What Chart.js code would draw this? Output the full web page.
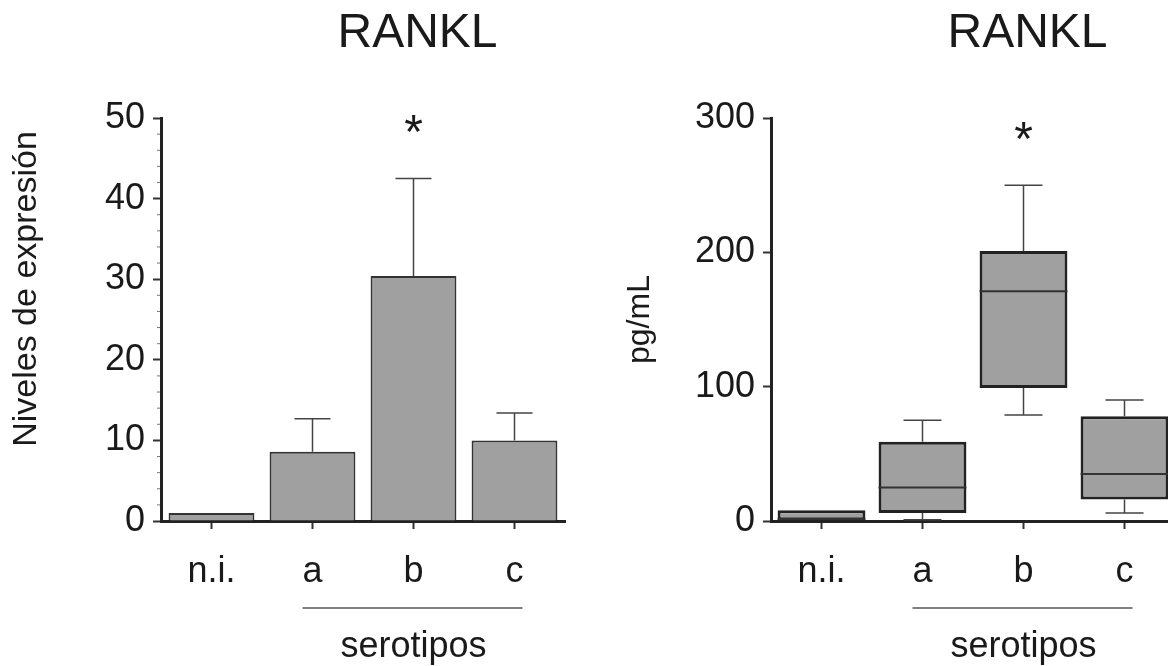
<!DOCTYPE html>
<html lang="es">
<head>
    <meta charset="UTF-8">
    <title>RANKL</title>
    <script src="https://cdn.jsdelivr.net/npm/chart.js"></script>
    <style>
        html, body { margin: 0; padding: 0; background: #fff; overflow: hidden; }
        body { width: 1168px; height: 666px; position: relative; }
        .panel { position: absolute; top: 0; height: 666px; }
        #left { left: 0; width: 584px; }
        #right { left: 584px; width: 600px; }
    </style>
</head>
<body>
    <div class="panel" id="left"><canvas id="expChart"></canvas></div>
    <div class="panel" id="right"><canvas id="pgChart"></canvas></div>

    <script>
        const categories = ['n.i.', 'a', 'b', 'c'];

        // left panel: expression levels, mean + upper error
        const expMeans = [1.0, 8.6, 30.4, 10.0];
        const expErrors = [0, 4.1, 12.1, 3.4];
        const expTicks = [0, 10, 20, 30, 40, 50];
        const expStar = 49.5;

        // right panel: pg/mL box plots
        const boxLow = [0, 1, 79, 6];
        const boxQ1 = [0.5, 6, 99, 16];
        const boxMedian = [1.5, 25, 171, 35];
        const boxQ3 = [8, 59, 201, 78];
        const boxHigh = [8, 75, 250, 90];
        const pgTicks = [0, 100, 200, 300];
        const pgStar = 292;

        const FONT = '"Liberation Sans", Arial, sans-serif';
        const INK = '#1a1a1a';
        Chart.defaults.font.family = FONT;
        Chart.defaults.color = INK;

        // title, asterisk and "serotipos" bracket under a/b/c
        const annotations = (starValue) => ({
            id: 'annotations',
            afterDraw(chart) {
                const { ctx, scales: { x, y } } = chart;
                ctx.save();
                ctx.fillStyle = INK;
                ctx.textAlign = 'center';
                ctx.textBaseline = 'alphabetic';
                ctx.font = '48px ' + FONT;
                ctx.fillText('RANKL', x.getPixelForValue(2) + 4, 47);

                ctx.fillText('*', x.getPixelForValue(2), y.getPixelForValue(starValue) + 26);

                ctx.strokeStyle = '#555';
                ctx.lineWidth = 1.5;
                ctx.beginPath();
                ctx.moveTo(x.getPixelForValue(1) - 10, 608);
                ctx.lineTo(x.getPixelForValue(3) + 8, 608);
                ctx.stroke();

                ctx.font = '36px ' + FONT;
                ctx.fillText('serotipos', x.getPixelForValue(2), 657);
                ctx.restore();
            }
        });

        // left y label sits a bit above the axis centre in the original
        const leftLabel = {
            id: 'leftLabel',
            afterDraw(chart) {
                const { ctx } = chart;
                ctx.save();
                ctx.translate(27, 289);
                ctx.rotate(-Math.PI / 2);
                ctx.fillStyle = INK;
                ctx.textAlign = 'center';
                ctx.textBaseline = 'middle';
                ctx.font = '34px ' + FONT;
                ctx.fillText('Niveles de expresión', 0, 0);
                ctx.restore();
            }
        };

        const errorBars = {
            id: 'errorBars',
            afterDatasetsDraw(chart) {
                const { ctx, scales: { x, y } } = chart;
                ctx.save();
                ctx.strokeStyle = '#444';
                ctx.lineWidth = 1.5;
                expMeans.forEach((m, i) => {
                    if (!expErrors[i]) return;
                    const cx = x.getPixelForValue(i);
                    const top = y.getPixelForValue(m + expErrors[i]);
                    ctx.beginPath();
                    ctx.moveTo(cx, y.getPixelForValue(m));
                    ctx.lineTo(cx, top);
                    ctx.moveTo(cx - 18, top);
                    ctx.lineTo(cx + 18, top);
                    ctx.stroke();
                });
                // small minor ticks on the y axis
                ctx.strokeStyle = '#777';
                ctx.lineWidth = 1;
                for (let v = 2; v < 50; v += 2) {
                    if (v % 10 === 0) continue;
                    const py = y.getPixelForValue(v);
                    ctx.beginPath();
                    ctx.moveTo(x.left - 4, py);
                    ctx.lineTo(x.left - 1, py);
                    ctx.stroke();
                }
                ctx.restore();
            }
        };

        const whiskers = {
            id: 'whiskers',
            afterDatasetsDraw(chart) {
                const { ctx, scales: { x, y } } = chart;
                const bars = chart.getDatasetMeta(0).data;
                ctx.save();
                categories.forEach((c, i) => {
                    const cx = x.getPixelForValue(i);
                    const half = bars[i].width / 2;
                    ctx.strokeStyle = '#444';
                    ctx.lineWidth = 1.5;
                    ctx.beginPath();
                    if (boxHigh[i] > boxQ3[i]) {
                        ctx.moveTo(cx, y.getPixelForValue(boxQ3[i]));
                        ctx.lineTo(cx, y.getPixelForValue(boxHigh[i]));
                        ctx.moveTo(cx - 19, y.getPixelForValue(boxHigh[i]));
                        ctx.lineTo(cx + 19, y.getPixelForValue(boxHigh[i]));
                    }
                    if (boxLow[i] < boxQ1[i] && i > 0) {
                        ctx.moveTo(cx, y.getPixelForValue(boxQ1[i]));
                        ctx.lineTo(cx, y.getPixelForValue(boxLow[i]));
                        ctx.moveTo(cx - 19, y.getPixelForValue(boxLow[i]));
                        ctx.lineTo(cx + 19, y.getPixelForValue(boxLow[i]));
                    }
                    ctx.stroke();
                    ctx.strokeStyle = '#333';
                    ctx.lineWidth = 2;
                    ctx.beginPath();
                    ctx.moveTo(cx - half, y.getPixelForValue(boxMedian[i]));
                    ctx.lineTo(cx + half, y.getPixelForValue(boxMedian[i]));
                    ctx.stroke();
                });
                ctx.restore();
            }
        };

        function axes(yMax, yTicks, yTitle, yWidth) {
            return {
                x: {
                    offset: true,
                    grid: { drawOnChartArea: false, offset: false, tickLength: 8, tickColor: '#333', tickWidth: 2 },
                    border: { color: '#222', width: 3 },
                    ticks: { font: { size: 36 }, color: INK, padding: 21 },
                    afterFit: s => { s.height = 145; }
                },
                y: {
                    min: 0,
                    max: yMax,
                    afterBuildTicks: s => { s.ticks = yTicks.map(v => ({ value: v })); },
                    grid: { drawOnChartArea: false, tickLength: 8, tickColor: '#333', tickWidth: 2 },
                    border: { color: '#222', width: 3 },
                    ticks: { font: { size: 36 }, color: INK, padding: 8 },
                    title: {
                        display: !!yTitle,
                        text: yTitle,
                        font: { size: 32 },
                        color: INK,
                        padding: { top: 37, bottom: 0 }
                    },
                    afterFit: s => { s.width = yWidth; }
                }
            };
        }

        new Chart(document.getElementById('expChart'), {
            type: 'bar',
            data: {
                labels: categories,
                datasets: [{
                    data: expMeans,
                    backgroundColor: '#a0a0a0',
                    borderColor: '#333',
                    borderWidth: 2,
                    barPercentage: 0.85,
                    categoryPercentage: 1
                }]
            },
            options: {
                responsive: true,
                maintainAspectRatio: false,
                animation: false,
                layout: { padding: { top: 118, right: 19, bottom: 0, left: 0 } },
                plugins: { legend: { display: false }, tooltip: { enabled: false } },
                scales: axes(50, expTicks, '', 161)
            },
            plugins: [errorBars, annotations(expStar), leftLabel]
        });

        new Chart(document.getElementById('pgChart'), {
            type: 'bar',
            data: {
                labels: categories,
                datasets: [{
                    data: categories.map((c, i) => [boxQ1[i], boxQ3[i]]),
                    backgroundColor: '#a0a0a0',
                    borderColor: '#222',
                    borderWidth: 3,
                    borderSkipped: false,
                    barPercentage: 0.87,
                    categoryPercentage: 1
                }]
            },
            options: {
                responsive: true,
                maintainAspectRatio: false,
                animation: false,
                layout: { padding: { top: 118, right: 9, bottom: 0, left: 0 } },
                plugins: { legend: { display: false }, tooltip: { enabled: false } },
                scales: axes(300, pgTicks, 'pg/mL', 187)
            },
            plugins: [whiskers, annotations(pgStar)]
        });
    </script>
</body>
</html>
